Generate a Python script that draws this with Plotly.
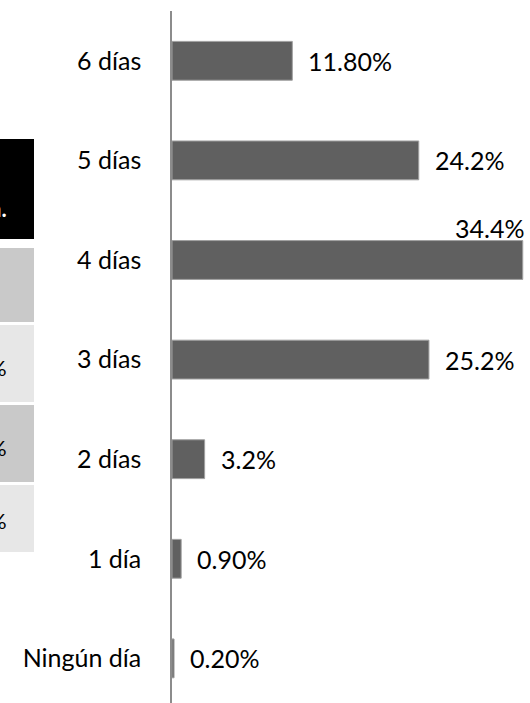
import plotly.graph_objects as go

# ---- data ----
categories = ["Ningún día", "1 día", "2 días", "3 días", "4 días", "5 días", "6 días"]
values = [0.2, 0.9, 3.2, 25.2, 34.4, 24.2, 11.8]
value_labels = ["0.20%", "0.90%", "3.2%", "25.2%", "34.4%", "24.2%", "11.80%"]

# partial table visible at the left edge (cut off in the original)
table_fill = ["#000000", "#c9c9c9", "#e7e7e7", "#c9c9c9", "#e7e7e7"]
table_text = ["n.", "", "%", "%", "%"]
table_text_color = ["#ffffff", "#000000", "#000000", "#000000", "#000000"]

W, H = 530, 703
L, R, T, B = 172, 0, 11, 0
PW, PH = W - L - R, H - T - B


def px_x(p):
    return (p - L) / PW


def px_y(p):
    return 1 - (p - T) / PH


FONT = "Lato, 'Open Sans', sans-serif"

fig = go.Figure(
    go.Bar(
        x=values,
        y=categories,
        orientation="h",
        width=0.39,
        marker=dict(color="#606060", line=dict(color="#a0a0a0", width=1)),
        hoverinfo="skip",
        cliponaxis=False,
    )
)

x_max = 35.11
annotations = []
for cat, v, lab in zip(categories, values, value_labels):
    if v > 33:
        annotations.append(dict(x=v, y=cat, xref="x", yref="y", text=lab,
                                showarrow=False, xanchor="right", yanchor="middle",
                                xshift=3, yshift=32,
                                font=dict(family=FONT, size=25, color="#000000")))
    else:
        annotations.append(dict(x=v, y=cat, xref="x", yref="y", text=lab,
                                showarrow=False, xanchor="left", yanchor="middle",
                                xshift=14,
                                font=dict(family=FONT, size=25, color="#000000")))

# table cells (pixel rows)
rows = [(139, 239, 208), (248, 322, 285), (325, 402, 367), (405, 482, 447), (485, 552, 520)]
shapes = []
for (y0, y1, yt), fill, txt, tc in zip(rows, table_fill, table_text, table_text_color):
    shapes.append(dict(type="rect", xref="paper", yref="paper",
                       x0=px_x(-5), x1=px_x(34), y0=px_y(y1), y1=px_y(y0),
                       fillcolor=fill, line=dict(width=0), layer="below"))
    if txt:
        annotations.append(dict(x=px_x(9), y=px_y(yt), xref="paper", yref="paper",
                                text=("<b>%s</b>" % txt) if tc == "#ffffff" else txt,
                                showarrow=False, xanchor="right", yanchor="middle",
                                font=dict(family=FONT, size=22, color=tc)))

fig.update_layout(
    width=W, height=H,
    margin=dict(l=L, r=R, t=T, b=B, pad=0),
    paper_bgcolor="#ffffff", plot_bgcolor="#ffffff",
    showlegend=False,
    annotations=annotations,
    shapes=shapes,
    xaxis=dict(range=[0, x_max], visible=False, fixedrange=True),
    yaxis=dict(
        type="category",
        categoryorder="array", categoryarray=categories,
        range=[-0.448, 6.5],
        showline=True, linecolor="#8c8c8c", linewidth=1.5,
        showgrid=False, zeroline=False, ticks="",
        ticklabelstandoff=24,
        tickfont=dict(family=FONT, size=25, color="#000000"),
        fixedrange=True,
    ),
)

fig.write_html(
    "out.html",
    config={"displayModeBar": False},
    post_script="document.body.style.margin='0';document.body.style.overflow='hidden';",
)
